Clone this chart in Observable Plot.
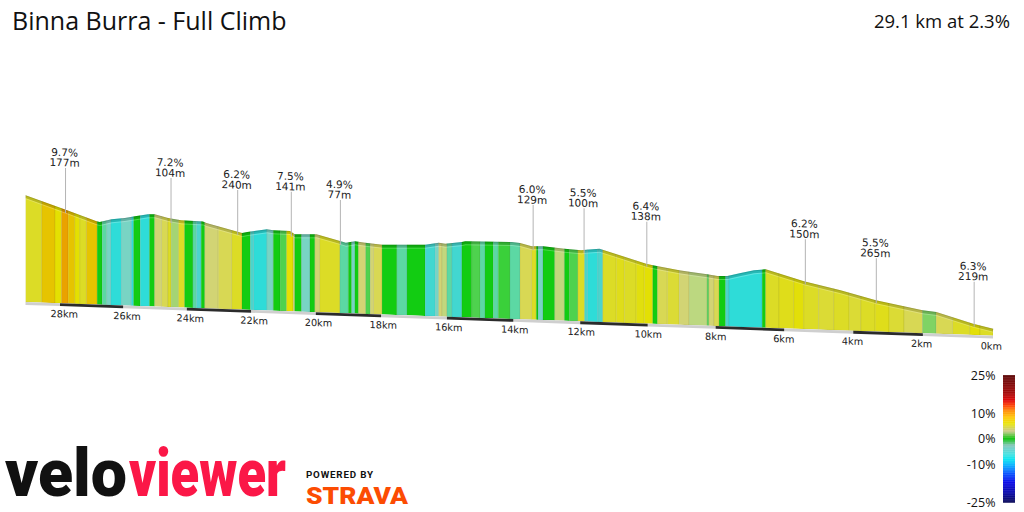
<!DOCTYPE html>
<html>
<head>
<meta charset="utf-8">
<script src="https://cdn.jsdelivr.net/npm/d3@7"></script>
<script src="https://cdn.jsdelivr.net/npm/@observablehq/plot@0.6"></script>
<style>
  html, body { margin: 0; padding: 0; background: #fff; }
  #root { position: relative; width: 1024px; height: 512px; overflow: hidden; background: #fff; }
  #chart { position: absolute; left: 0; top: 0; }
  #legend { position: absolute; left: 934px; top: 365px; }
  #overlay { position: absolute; left: 0; top: 0; pointer-events: none; }
</style>
</head>
<body>
<div id="root">
  <div id="chart"></div>
  <div id="legend"></div>
  <svg id="overlay" width="1024" height="512" xmlns="http://www.w3.org/2000/svg">
    <text x="12" y="30" font-family="Open Sans" font-size="25" fill="#111">Binna Burra - Full Climb</text>
    <text x="1010" y="28" text-anchor="end" font-family="Open Sans" font-size="18.5" fill="#111">29.1 km at 2.3%</text>
    <text id="logo-velo" x="0" y="0" font-family="Roboto" font-weight="900" font-size="66" fill="#111">velo</text>
    <text id="logo-viewer" x="0" y="0" font-family="Roboto" font-weight="900" font-size="66" fill="#fb1747">viewer</text>
    <text id="logo-powered" x="0" y="0" font-family="Roboto" font-weight="700" font-size="9.5" fill="#111" letter-spacing="0.8">POWERED BY</text>
    <text id="logo-strava" x="0" y="0" font-family="Roboto" font-weight="900" font-size="23.5" fill="#fc4c02">STRAVA</text>
  </svg>
</div>
<script>
// ---------------- DATA ----------------
const TOTAL_KM = 29.1;

// elevation profile (distance from start in km, elevation in m)
const profileKm = [29.1, 27.84, 26.84, 26.74, 26.37, 25.95, 25.63, 25.22, 25.01, 24.59, 24.18, 23.50, 23.39, 22.28, 22.12, 21.51, 21.31, 20.80, 20.65, 19.98, 19.26, 19.08, 18.80, 18.49, 17.97, 16.66, 16.25, 16.05, 15.55, 15.45, 14.05, 13.80, 13.45, 13.11, 12.47, 11.97, 11.82, 11.43, 10.05, 9.85, 9.07, 8.73, 8.25, 7.95, 7.66, 7.27, 6.88, 6.54, 5.43, 4.37, 3.35, 2.01, 1.62, 0.57, 0];
const profileElev = [749, 662, 591, 587, 608, 620, 633, 650, 652, 630, 617, 615, 605, 546, 554, 577, 572, 571, 550, 555, 516, 505, 517, 510, 501, 511, 527, 522, 537, 543, 549, 544, 525, 528, 516, 509, 515, 524, 435, 426, 398, 390, 378, 369, 371, 394, 416, 425, 354, 302, 243, 187, 179, 109, 80];

// gradient strips (edges in km, gradient % per strip)
const stripEdges = [29.1, 28.58, 28.16, 27.95, 27.74, 27.53, 27.37, 27.16, 26.82, 26.66, 26.52, 26.39, 26.05, 25.74, 25.67, 25.46, 25.17, 25.01, 24.79, 24.59, 24.49, 24.26, 24.07, 23.81, 23.70, 23.55, 23.44, 23.02, 22.60, 22.28, 22.02, 21.92, 21.51, 21.31, 21.10, 20.90, 20.70, 20.65, 20.44, 20.18, 20.03, 19.88, 19.26, 19.00, 18.90, 18.80, 18.69, 18.47, 18.33, 18.23, 17.97, 17.52, 17.21, 16.66, 16.35, 16.25, 16.15, 16.00, 15.85, 15.55, 15.25, 15.00, 14.85, 14.60, 14.45, 14.10, 13.80, 13.45, 13.31, 13.26, 13.11, 12.76, 12.47, 12.32, 12.07, 11.87, 11.78, 11.48, 11.33, 10.93, 10.69, 10.34, 10.10, 9.85, 9.71, 9.42, 9.07, 8.78, 8.25, 8.20, 8.05, 7.90, 7.71, 7.61, 6.64, 6.54, 6.15, 5.72, 5.43, 5.00, 4.56, 4.12, 3.78, 3.37, 2.97, 2.54, 2.01, 1.62, 1.15, 0.66, 0.37, 0];
const stripGrades = [5, 8, 6.5, 9.7, 8, 6.5, 5, 8, 0, -0.8, -1.5, -4, -1.5, -4, 0, -4, 0, 2.5, 3.5, 5, 1.3, 5, 0, -0.8, -2.5, 0, 2.5, 3.5, 5, 0, -2.5, -4, -1.5, 0, 0.6, 6.5, 2.5, 0, -1.5, 0, 2.5, 5, -0.8, 0, -1.5, 0, 2.5, 0.6, 2.5, 3.5, 0, -0.8, 0, -3, -1.5, 2.5, 2, -0.8, -3, 0, 0.6, -0.8, 0, -0.8, 0.4, -0.8, 3.5, 5, 0, -1.5, 0, 2, 0, 0.6, 5, -2.5, -4, -2.5, 5, 5.5, 5, 6, 6.4, 0, 3.5, 4.5, 2.5, 1.8, 0.6, 2.5, 3.5, 0, -2.5, -4, 0, 5, 5.5, 6.2, 5, 4.5, 5, 4.5, 5, 5.5, 4.5, 3.5, 1, 3.5, 5, 6.3, 5];

// steepest-section annotations
const annotKm = [27.84, 24.51, 22.43, 20.77, 19.26, 13.42, 11.90, 10.04, 5.40, 3.35, 0.55];
const annotElev = [660, 617, 552, 553, 509, 520, 510, 435, 354, 243, 109];
const annotPct = ["9.7%", "7.2%", "6.2%", "7.5%", "4.9%", "6.0%", "5.5%", "6.4%", "6.2%", "5.5%", "6.3%"];
const annotLen = ["177m", "104m", "240m", "141m", "77m", "129m", "100m", "138m", "150m", "265m", "219m"];

// distance ticks
const kmTicks = [28, 26, 24, 22, 20, 18, 16, 14, 12, 10, 8, 6, 4, 2, 0];

// colour scale for gradients in the profile
const gradeStops  = [-25, -12, -6, -4, -2.5, -1.5, -0.8, 0, 0.6, 1.3, 1.8, 2.5, 3.5, 5, 6.5, 8, 9.7, 15, 25];
const gradeColors = ["#000060", "#0040ff", "#00c8ff", "#2edcd8", "#4cd4cc", "#78d4c4", "#5cd8a4", "#12cc12", "#4ed24e", "#a4d474", "#bcd880", "#d2d474", "#d8d854", "#dcdc26", "#e4e002", "#e6c400", "#eaa200", "#e00000", "#600000"];

// colour legend
const legendStops  = [-25, -21, -17, -13.5, -10.5, -8, -6, -2.5, 0, 3, 6, 8.5, 11, 13, 15, 18, 25];
const legendColors = ["#000050", "#0000a8", "#0000e8", "#0050ff", "#00a8ff", "#00e4f0", "#40e0e0", "#80c4b8", "#00c000", "#c8c888", "#e8e400", "#ffc400", "#ff8800", "#ff4000", "#e00000", "#a00000", "#580000"];
const legendTicks = [25, 10, 0, -10, -25];

// ---------------- BUILD ----------------
const profile = profileKm.map((km, i) => ({km, e: profileElev[i]}));
const strips = d3.pairs(stripEdges).map(([a, b], i) => ({a, b, g: stripGrades[i]})).filter(d => d.g !== undefined);
const annots = annotKm.map((km, i) => ({km, e: annotElev[i], pct: annotPct[i], len: annotLen[i]}));
const bandEdges = [TOTAL_KM, ...kmTicks];
const bands = d3.pairs(bandEdges).map(([a, b], i) => ({a, b, dark: i % 2 === 1}));

// view geometry
const PERSP = 232.3;            // perspective offset for the quadratic distance scale
const BASE = 53.2, TOP = 857.2; // elevation domain
const Y0 = 301.22, YH = 120;    // pixel range of the elevation domain
const MPP = (TOP - BASE) / YH;  // metres per pixel
const SLOPE = 0.0347;           // ground slant
const ROOF = 3 * MPP, BAND = 2.8 * MPP, LEADER = 45 * MPP, LEADER_TXT = 47 * MPP, KMLAB = 10.8 * MPP;

const X = km => PERSP + TOTAL_KM - km;

const chart = Plot.plot({
  width: 1024,
  height: 512,
  x: {type: "pow", exponent: 2, domain: [PERSP, PERSP + TOTAL_KM], range: [25.5, 993], axis: null},
  y: {domain: [BASE, TOP], range: [Y0, Y0 - YH], axis: null},
  color: {type: "linear", domain: gradeStops, range: gradeColors},
  style: {background: "transparent", overflow: "visible"},
  marks: [
    // clip shape (profile incl. roof)
    Plot.areaY(profile, {x: d => X(d.km), y1: BASE, y2: d => d.e + ROOF, fill: "#000"}),
    // gradient strips
    Plot.rect(strips, {x1: d => X(d.a), x2: d => X(d.b), y1: BASE, y2: TOP, fill: "g", stroke: "#000", strokeOpacity: 0.08, strokeWidth: 0.8}),
    // roof band
    Plot.areaY(profile, {x: d => X(d.km), y1: "e", y2: d => d.e + ROOF, fill: "#000", fillOpacity: 0.16}),
    Plot.lineY(profile, {x: d => X(d.km), y: d => d.e + ROOF, stroke: "#000", strokeOpacity: 0.15, strokeWidth: 0.8}),
    Plot.lineY(profile, {x: d => X(d.km), y: "e", stroke: "#fff", strokeOpacity: 0.3, strokeWidth: 0.8}),
    // ground band
    Plot.rect(bands, {filter: d => !d.dark, x1: d => X(d.a), x2: d => X(d.b), y1: BASE - BAND, y2: BASE, fill: "#cfcfcf"}),
    Plot.rect(bands, {filter: d => d.dark, x1: d => X(d.a), x2: d => X(d.b), y1: BASE - BAND, y2: BASE, fill: "#2b2b2b"}),
    // km labels
    Plot.text(kmTicks, {x: d => X(d), y: BASE - KMLAB, text: d => d + "km", fontSize: 9.8, fontFamily: "DejaVu Sans", fill: "#222"}),
    // annotations
    Plot.ruleX(annots, {x: d => X(d.km), y1: "e", y2: d => d.e + LEADER, stroke: "#b4b4b4", strokeWidth: 1}),
    Plot.text(annots, {x: d => X(d.km), y: d => d.e + LEADER_TXT, text: d => d.pct + "\n" + d.len, lineAnchor: "bottom", lineHeight: 0.98, dx: -1, fontSize: 10.5, fontFamily: "DejaVu Sans", fill: "#222"})
  ]
});

// ground slant + clip
const NS = "http://www.w3.org/2000/svg";
const wrap = document.createElementNS(NS, "g");
wrap.setAttribute("transform", `skewY(${Math.atan(SLOPE) * 180 / Math.PI})`);
[...chart.children].forEach(c => { if (c.tagName.toLowerCase() !== "style") wrap.appendChild(c); });
chart.appendChild(wrap);
const areaGroups = wrap.querySelectorAll('g[aria-label="area"]');
const clipGroup = areaGroups[0];
const clipPathD = clipGroup.querySelector("path").getAttribute("d");
const defs = document.createElementNS(NS, "defs");
const cp = document.createElementNS(NS, "clipPath");
cp.setAttribute("id", "profile-clip");
const cpPath = document.createElementNS(NS, "path");
cpPath.setAttribute("d", clipPathD);
if (clipGroup.getAttribute("transform")) cpPath.setAttribute("transform", clipGroup.getAttribute("transform"));
cp.appendChild(cpPath);
defs.appendChild(cp);
chart.insertBefore(defs, wrap);
clipGroup.remove();
const stripGroup = wrap.querySelectorAll('g[aria-label="rect"]')[0];
stripGroup.setAttribute("clip-path", "url(#profile-clip)");
// km labels sit on a slightly nearer plane (perspective)
const kmLabelGroup = wrap.querySelectorAll('g[aria-label="text"]')[0];
kmLabelGroup.setAttribute("transform", "matrix(0.99357,0,0,1,4.686,0)");
document.getElementById("chart").appendChild(chart);

// legend
const legend = Plot.plot({
  width: 90,
  height: 150,
  x: {domain: [0, 1], range: [69, 81], axis: null},
  y: {domain: [-25, 25], range: [137.7, 10], axis: null},
  color: {type: "linear", domain: legendStops, range: legendColors},
  style: {background: "transparent", overflow: "visible"},
  marks: [
    Plot.rect(d3.range(-25, 25, 0.25), {x1: 0, x2: 1, y1: d => d, y2: d => Math.min(25, d + 0.35), fill: d => d + 0.125}),
    Plot.text(legendTicks, {x: 0, y: d => d, text: d => d + "%", textAnchor: "end", dx: -8, fontSize: 12.5, fontFamily: "Open Sans", fill: "#111"})
  ]
});
document.getElementById("legend").appendChild(legend);

// fit logo words to their boxes with a horizontal scale (keeps them as text)
function fitText(id, x, baseline, width) {
  const el = document.getElementById(id);
  const w = el.getComputedTextLength() || width;
  el.setAttribute("transform", `translate(${x},${baseline}) scale(${width / w},1)`);
}
fitText("logo-velo", 5, 495.5, 122);
fitText("logo-viewer", 129, 495.5, 157);
fitText("logo-powered", 306, 477.5, 68);
fitText("logo-strava", 306, 503.5, 102);
</script>
</body>
</html>
